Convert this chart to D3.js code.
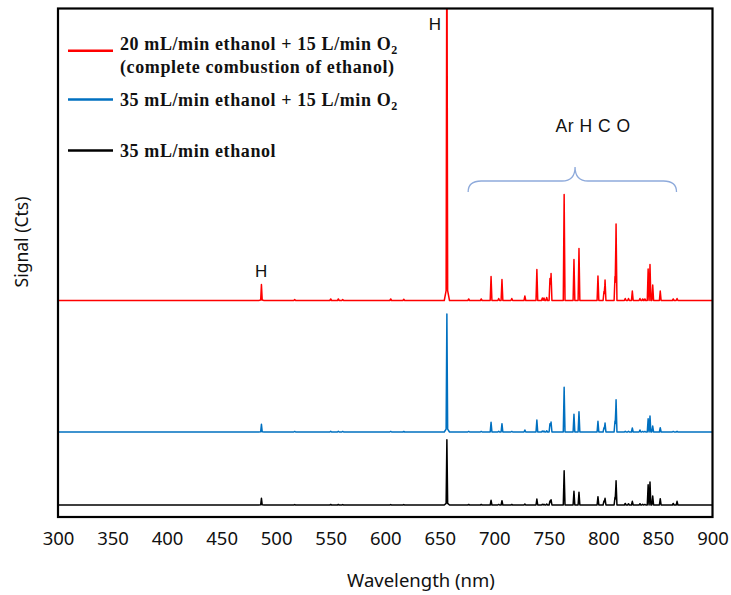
<!DOCTYPE html>
<html><head><meta charset="utf-8">
<script src="https://cdn.jsdelivr.net/npm/d3@7"></script>
<style>body{margin:0;background:#fff}svg{display:block}</style>
</head><body>
<script>
// ---- data ----
const xTicks = [300,350,400,450,500,550,600,650,700,750,800,850,900];
const hLines = [486.5, 656.5];
const emissionLines = [697, 707, 728, 739, 751, 752, 764, 773, 777.6, 795, 800.5, 801.5, 810.6, 811.6, 826.5, 833.5, 841, 842.7, 845.2, 852.1, 867.5];
const redH = [1600, 40000];
const redLines = [2400, 2100, 450, 3100, 2200, 2700, 10600, 4100, 5200, 2450, 900, 2050, 2400, 7650, 950, 200, 3150, 3600, 1550, 950, 200];
const blueH = [770, 11800];
const blueLines = [970, 830, 200, 1200, 830, 1000, 4470, 1770, 2030, 1070, 430, 900, 1100, 3230, 400, 200, 1330, 1600, 600, 430, 70];
const blackH = [670, 6530];
const blackLines = [470, 430, 100, 600, 400, 530, 3430, 1370, 1270, 830, 400, 670, 770, 2430, 370, 130, 2030, 2300, 900, 630, 370];
const minorLines = [517, 550, 557, 561, 605, 617, 676.5, 688, 704, 716, 744, 745.5, 748, 820, 823, 836, 838, 864];
const redMinor   = [100, 150, 150, 100, 150, 120, 150, 150, 200, 200, 250, 250, 300, 200, 200, 150, 150, 150];
const blueMinor  = [60, 80, 80, 60, 60, 50, 60, 60, 80, 60, 100, 100, 120, 80, 80, 60, 60, 60];
const blackMinor = [40, 50, 50, 40, 40, 40, 50, 50, 60, 50, 80, 80, 100, 150, 120, 80, 60, 150];
const baselines = {red: 21650, blue: 8500, black: 1200};
const seriesNames = ["20 mL/min ethanol + 15 L/min O", "35 mL/min ethanol + 15 L/min O", "35 mL/min ethanol"];
const colors = {red: "#ff0000", blue: "#0070c0", black: "#000000"};

// ---- layout ----
const W = 731, H = 595;
const svg = d3.select("body").append("svg").attr("width", W).attr("height", H);
const x = d3.scaleLinear().domain([300, 900]).range([58, 712.5]);
const y = d3.scaleLinear().domain([0, 50850]).range([517, 8.5]);

// build a piecewise-linear spectrum from line list
function spectrum(base, hPk, lines, minor) {
  const comps = [];
  hLines.forEach((c, i) => { comps.push({c, h: hPk[i] * 0.965, hw: 0.7}); comps.push({c, h: hPk[i] * 0.035, hw: 2.4}); });
  emissionLines.forEach((c, i) => comps.push({c, h: lines[i], hw: 0.8}));
  minorLines.forEach((c, i) => comps.push({c, h: minor[i], hw: 0.8}));
  const xs = new Set([300, 900]);
  comps.forEach(p => { xs.add(p.c - p.hw); xs.add(p.c); xs.add(p.c + p.hw); });
  const arr = Array.from(xs).sort((a, b) => a - b);
  return arr.map(w => {
    let v = base;
    comps.forEach(p => { const d = Math.abs(w - p.c); if (d < p.hw) v += p.h * (1 - d / p.hw); });
    return [w, v];
  });
}

svg.append("clipPath").attr("id", "clip").append("rect")
  .attr("x", x(300)).attr("y", y.range()[1]).attr("width", x(900) - x(300)).attr("height", y.range()[0] - y.range()[1]);

const line = d3.line().x(d => x(d[0])).y(d => y(d[1]));
const g = svg.append("g").attr("clip-path", "url(#clip)");
[["black", blackH, blackLines, blackMinor], ["blue", blueH, blueLines, blueMinor], ["red", redH, redLines, redMinor]].forEach(([k, hp, ln, mn]) => {
  g.append("path").datum(spectrum(baselines[k], hp, ln, mn))
    .attr("fill", "none").attr("stroke", colors[k]).attr("stroke-width", 1.5)
    .attr("stroke-linejoin", "round").attr("d", line);
});

// frame
svg.append("rect").attr("x", x(300)).attr("y", y.range()[1]).attr("width", x(900) - x(300)).attr("height", y.range()[0] - y.range()[1])
  .attr("fill", "none").attr("stroke", "#000").attr("stroke-width", 2.2);

// x axis
const ax = svg.append("g").attr("transform", `translate(0,${y.range()[0]})`)
  .call(d3.axisBottom(x).tickValues(xTicks).tickSize(0).tickPadding(15).tickFormat(d3.format("d")));
ax.select(".domain").remove();
ax.selectAll("text").attr("font-family", "'Noto Sans', sans-serif").attr("font-size", 18.5).attr("fill", "#111");

svg.append("text").attr("x", 421).attr("y", 587).attr("text-anchor", "middle")
  .attr("font-family", "'Noto Sans', sans-serif").attr("font-size", 18.5).attr("fill", "#111").text("Wavelength (nm)");
svg.append("text").attr("transform", "translate(28,242) rotate(-90)").attr("text-anchor", "middle")
  .attr("font-family", "'Noto Sans', sans-serif").attr("font-size", 17.5).attr("fill", "#111").text("Signal (Cts)");

// annotations
const ann = svg.append("g").attr("font-family", "'Liberation Sans', Arial, sans-serif").attr("font-size", 17).attr("fill", "#111").attr("text-anchor", "middle");
ann.append("text").attr("x", x(645.5)).attr("y", y(48700)).text("H");
ann.append("text").attr("x", x(486.3)).attr("y", y(24030)).text("H");
ann.append("text").attr("x", x(790.5)).attr("y", y(38530)).attr("font-size", 17.5).attr("letter-spacing", 0.5).text("Ar H C O");

// brace
const bx0 = x(676), bx1 = x(867), bxm = x(774), bxr = 13;
const by0 = y(32500), by1 = y(33600), byt = y(35000);
svg.append("path").attr("fill", "none").attr("stroke", "#8eaadb").attr("stroke-width", 1.3)
  .attr("d", `M${bx0},${by0} Q${bx0},${by1} ${bx0 + bxr},${by1} L${bxm - bxr},${by1} Q${bxm},${by1} ${bxm},${byt} Q${bxm},${by1} ${bxm + bxr},${by1} L${bx1 - bxr},${by1} Q${bx1},${by1} ${bx1},${by0}`);

// legend
const leg = svg.append("g").attr("font-family", "'Liberation Serif', 'Times New Roman', serif").attr("font-weight", "bold").attr("font-size", 18).attr("fill", "#111").attr("letter-spacing", 0.6);
const legItems = [
  {k: "red", ly: 50.7, lines: [[seriesNames[0], true, 50], ["(complete combustion of ethanol)", false, 73]]},
  {k: "blue", ly: 99.5, lines: [[seriesNames[1], true, 105.5]]},
  {k: "black", ly: 150.5, lines: [[seriesNames[2], false, 157]]}
];
legItems.forEach(it => {
  leg.append("line").attr("x1", 68).attr("x2", 113).attr("y1", it.ly).attr("y2", it.ly)
    .attr("stroke", colors[it.k]).attr("stroke-width", 2.6);
  it.lines.forEach(([t, sub, by]) => {
    const tx = leg.append("text").attr("x", 120).attr("y", by);
    tx.append("tspan").text(t);
    if (sub) tx.append("tspan").attr("font-size", 12).attr("dy", 4).text("2");
  });
});
</script>
</body></html>
